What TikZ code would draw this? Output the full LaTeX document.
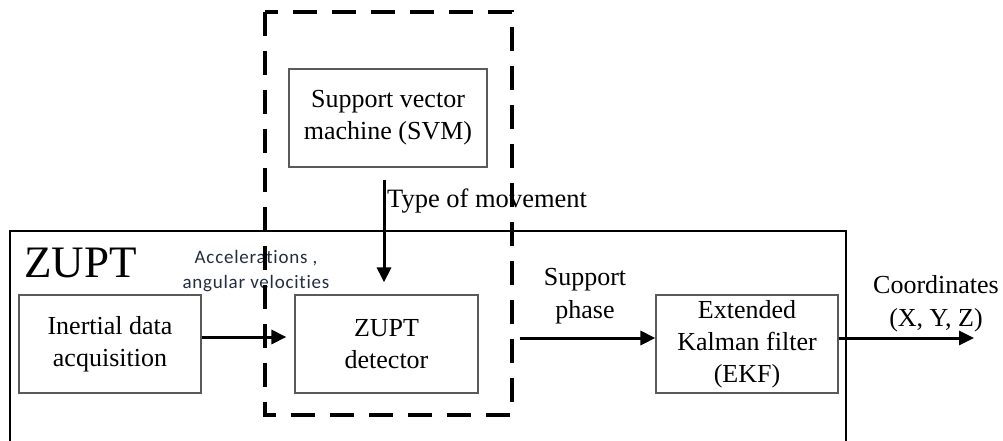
\documentclass[tikz,border=0pt]{standalone}
\usepackage{fontspec}
\setmainfont{Liberation Serif}
\newfontfamily\calibfont[LetterSpace=4,Ligatures=NoCommon]{Carlito}
\usetikzlibrary{arrows.meta}
\definecolor{boxgray}{RGB}{90,90,90}
\definecolor{labelink}{RGB}{35,45,65}
\tikzset{
  block/.style={draw=boxgray, line width=1.2pt, minimum width=183pt, minimum height=98pt,
    inner sep=0pt, align=center, font=\fontsize{26}{32}\selectfont},
  lbl/.style={align=center, inner sep=0pt, font=\fontsize{26}{33}\selectfont},
  flow/.style={line width=3pt, -{Triangle[length=15pt,width=14pt]}},
  frame/.style={line width=2pt},
  group/.style={line width=3.5pt, dash pattern=on 24pt off 15pt}
}
\begin{document}
\begin{tikzpicture}[x=1pt, y=-1pt]
  \useasboundingbox (0,0) rectangle (1003,441);

  % outer ZUPT frame (open at the bottom)
  \coordinate (fbl) at (10,445);
  \coordinate (ftl) at (10,231);
  \coordinate (ftr) at (846,231);
  \coordinate (fbr) at (846,445);
  \draw[frame] (fbl) -- (ftl) -- (ftr) -- (fbr);
  \node[anchor=base west, inner sep=0pt, font=\fontsize{45}{45}\selectfont] (zlab) at (24,277) {ZUPT};

  % processing blocks
  \node[block, minimum width=198pt] (svm) at (388,118) {Support vector\\machine (SVM)};
  \node[block, minimum width=182pt] (inert) at (110,344) {Inertial data\\acquisition};
  \node[block] (det) at (386.5,344) {ZUPT\\detector};
  \node[block, minimum width=182pt] (ekf) at (747,344) {Extended\\Kalman filter\\(EKF)};
  \coordinate (out) at (974,338);

  % labels
  \node[lbl, anchor=base west, font=\fontsize{26.5}{33}\selectfont] (tom) at (387,207) {Type of movement};
  \node[align=center, inner sep=0pt, text=labelink, font=\calibfont\fontsize{19}{25}\selectfont]
    (acc) at (256,271) {Accelerations ,\\angular velocities};
  \node[lbl] (sp) at (585,296) {Support\\phase};
  \node[lbl] (coord) at (936,304) {Coordinates\\(X, Y, Z)};

  % connectors
  \draw[flow] ([yshift=-12pt,xshift=-4pt]svm.south) -- ([yshift=12pt,xshift=-2.5pt]det.north);
  \draw[flow] ([yshift=7pt]inert.east) -- ([yshift=7pt,xshift=-8pt]det.west);
  \draw[flow] ([yshift=6pt,xshift=41pt]det.east) -- ([yshift=6pt]ekf.west);
  \draw[flow] ([yshift=6pt]ekf.east) -- (out);

  % dashed grouping of the classifier and detector
  \coordinate (gtl) at (265,12);
  \coordinate (gbr) at (512,415);
  \draw[group] (gtl) rectangle (gbr);
\end{tikzpicture}
\end{document}
